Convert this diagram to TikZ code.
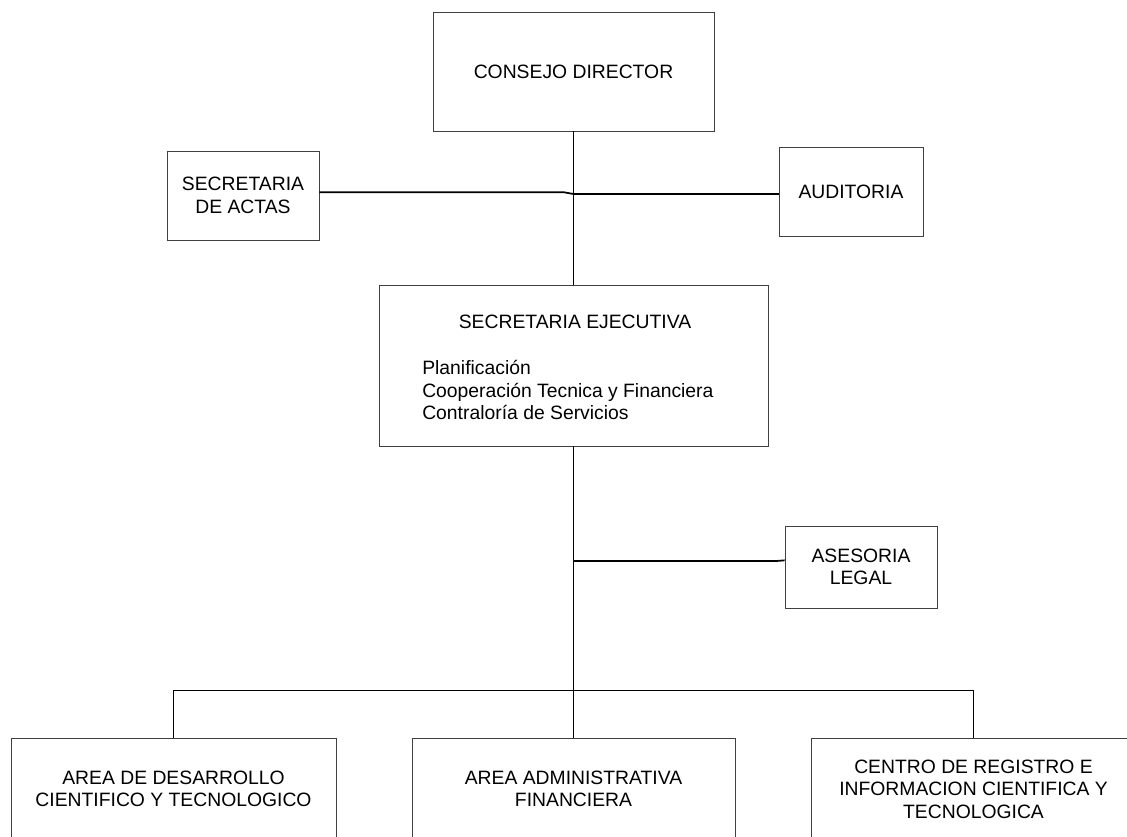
\documentclass[tikz,border=0pt]{standalone}
\usepackage{fontspec}
\setmainfont{Liberation Sans}
\tikzset{>=stealth}

\begin{document}
\begin{tikzpicture}[x=0.75pt, y=-0.75pt,
    box/.style={draw=black!75, line width=0.6pt, inner sep=0pt, align=center,
        font=\fontsize{14.5}{16.9}\selectfont},
    txt/.style={inner sep=0pt, font=\fontsize{14.5}{16.9}\selectfont},
    link/.style={line width=1.3pt}]
    \useasboundingbox (0,0) rectangle (1127,837);
    \clip (0,0) rectangle (1127,837);
    % top of the chart
    \node[box, minimum width=210.75pt, minimum height=89.25pt] (consejo) at (573.5,71.5) {CONSEJO DIRECTOR};
    \node[box, minimum width=114pt, minimum height=66.75pt] (actas) at (243,195.5) {SECRETARIA\\DE ACTAS};
    \node[box, minimum width=108pt, minimum height=66.75pt] (audit) at (851,191.5) {AUDITORIA};
    \node[box, minimum width=291.75pt, minimum height=120.75pt] (ejec) at (573.5,365.5) {};
    \node[txt] (ejectit) at (575,322) {SECRETARIA EJECUTIVA};
    \node[txt, anchor=west, align=left] (ejeclist) at (422,390)
        {Planificación\\Cooperación Tecnica y Financiera\\Contraloría de Servicios};
    \node[box, minimum width=114pt, minimum height=61.5pt] (ases) at (861,567) {ASESORIA\\LEGAL};
    % areas
    \node[box, minimum width=243.75pt, minimum height=76.5pt] (desarr) at (173.5,789)
        {AREA DE DESARROLLO\\CIENTIFICO Y TECNOLOGICO};
    \node[box, minimum width=242.25pt, minimum height=76.5pt] (admin) at (573.5,789)
        {AREA ADMINISTRATIVA\\FINANCIERA};
    \node[box, minimum width=243.75pt, minimum height=76.5pt] (centro) at (973.5,789)
        {CENTRO DE REGISTRO E\\INFORMACION CIENTIFICA Y\\TECNOLOGICA};
    % connectors
    \coordinate (ja) at (573.5,194);
    \coordinate (jl) at (573.5,561);
    \draw[link] (consejo.south) -- (ejec.north);
    \draw[link] ([yshift=2.5pt]actas.east) -- ++(244,0) -- (ja);
    \draw[link] (ja) -- (audit.west |- ja);
    \draw[link] (ejec.south) -- (admin.north);
    \draw[link] (jl) -- ++(203,0) -- ([yshift=5pt]ases.west);
    \draw[link] (desarr.north) -- ++(0,-47) -| (centro.north);
\end{tikzpicture}
\end{document}
